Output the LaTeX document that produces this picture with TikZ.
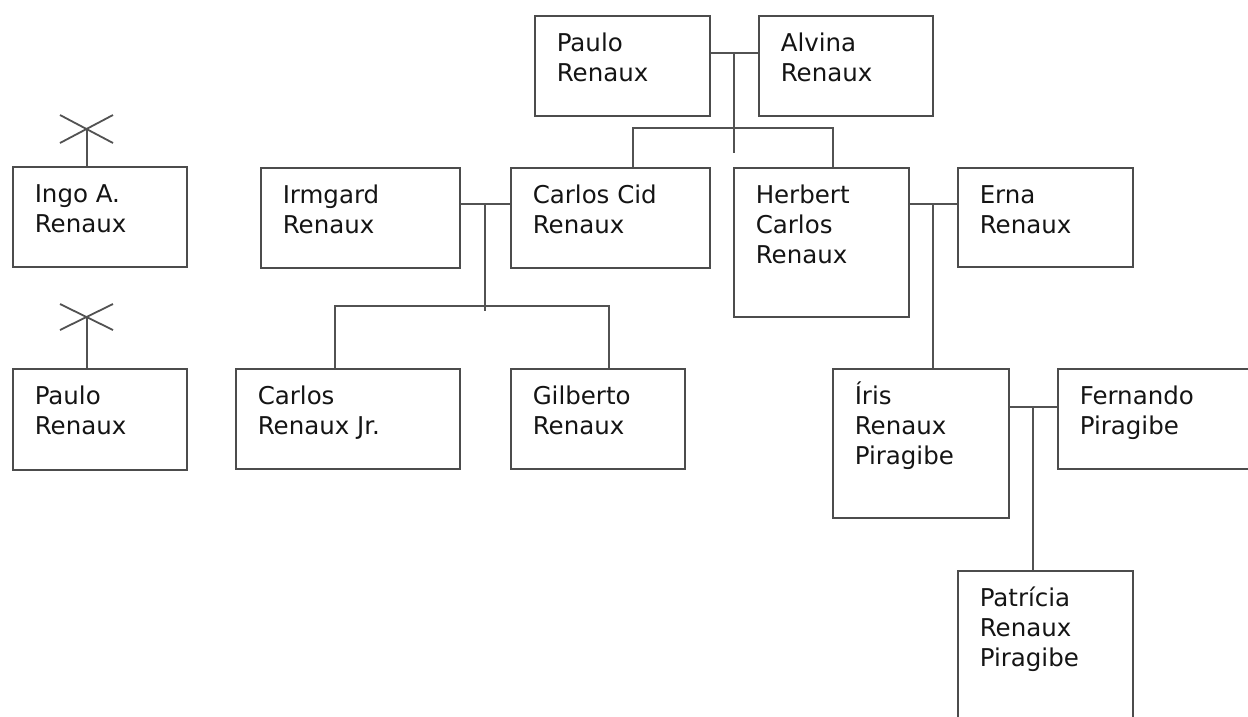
\documentclass[tikz,border=0pt]{standalone}
\usepackage{fontspec}
\setmainfont{DejaVu Sans}
\usetikzlibrary{calc}
\newcommand{\who}[3]{\parbox[c][#2pt][t]{#1pt}{\raggedright\leftskip=22pt\parindent=0pt\fontsize{24.5}{30}\selectfont\rule{0pt}{35.5pt}#3}}

\begin{document}
\begin{tikzpicture}[x=1pt, y=-1pt, person/.style={draw=black!70, line width=1.5pt, inner sep=0pt, anchor=north west, text=black!92}, link/.style={draw=black!68, line width=1.8pt}]
\useasboundingbox (0,0) rectangle (1248,716); \clip (0,0) rectangle (1248,716);
% people
\node[person] (pauloR) at (534,15) {\who{175}{100}{Paulo\\Renaux}}; \node[person] (alvina) at (758,15) {\who{174}{100}{Alvina\\Renaux}};
\node[person] (ingo) at (12,166) {\who{174}{100}{Ingo A.\\Renaux}}; \node[person] (pauloL) at (12,368) {\who{174}{101}{Paulo\\Renaux}};
\node[person] (irmgard) at (260,167) {\who{199}{100}{Irmgard\\Renaux}}; \node[person] (carlosCid) at (510,167) {\who{199}{100}{Carlos Cid\\Renaux}};
\node[person] (herbert) at (733,167) {\who{175}{149}{Herbert\\Carlos\\Renaux}}; \node[person] (erna) at (957,167) {\who{175}{99}{Erna\\Renaux}};
\node[person] (carlosJr) at (235,368) {\who{224}{100}{Carlos\\Renaux Jr.}}; \node[person] (gilberto) at (510,368) {\who{174}{100}{Gilberto\\Renaux}};
\node[person] (iris) at (832,368) {\who{176}{149}{Íris\\Renaux\\Piragibe}}; \node[person] (fernando) at (1057,368) {\who{200}{100}{Fernando\\Piragibe}};
\node[person] (patricia) at (957,570) {\who{175}{160}{Patrícia\\Renaux\\Piragibe}};
% couples and children
\draw[link] ([yshift=-38pt]pauloR.north east) -- ([yshift=-38pt]alvina.north west) coordinate[midway] (pa-mid); \draw[link] (pa-mid) -- ++(0,100);
\draw[link] ([xshift=123pt]carlosCid.north west) -- ++(0,-39) -| ([xshift=100pt]herbert.north west);
\draw[link] ([yshift=-37pt]irmgard.north east) -- ([yshift=-37pt]carlosCid.north west) coordinate[midway] (ic-mid); \draw[link] (ic-mid) -- ++(0,107);
\draw[link] ([xshift=100pt]carlosJr.north west) -- ++(0,-62) -| ([xshift=99pt]gilberto.north west);
\draw[link] ([yshift=-37pt]herbert.north east) -- ([yshift=-37pt]erna.north west) coordinate[midway] (he-mid); \draw[link] (he-mid) -- (he-mid |- iris.north);
\draw[link] ([yshift=-39pt]iris.north east) -- ([yshift=-39pt]fernando.north west) coordinate[midway] (if-mid); \draw[link] (if-mid) -- (if-mid |- patricia.north);
% deceased marks
\draw[link] ([xshift=75pt]ingo.north west) -- ++(0,-37) coordinate (ingo-x);
\draw[link] ([shift={(-27,-14)}]ingo-x) -- ([shift={(26,14)}]ingo-x) ([shift={(-27,14)}]ingo-x) -- ([shift={(26,-14)}]ingo-x);
\draw[link] ([xshift=75pt]pauloL.north west) -- ++(0,-51) coordinate (paulo-x);
\draw[link] ([shift={(-27,-13)}]paulo-x) -- ([shift={(26,13)}]paulo-x) ([shift={(-27,13)}]paulo-x) -- ([shift={(26,-13)}]paulo-x);
\end{tikzpicture}
\end{document}
